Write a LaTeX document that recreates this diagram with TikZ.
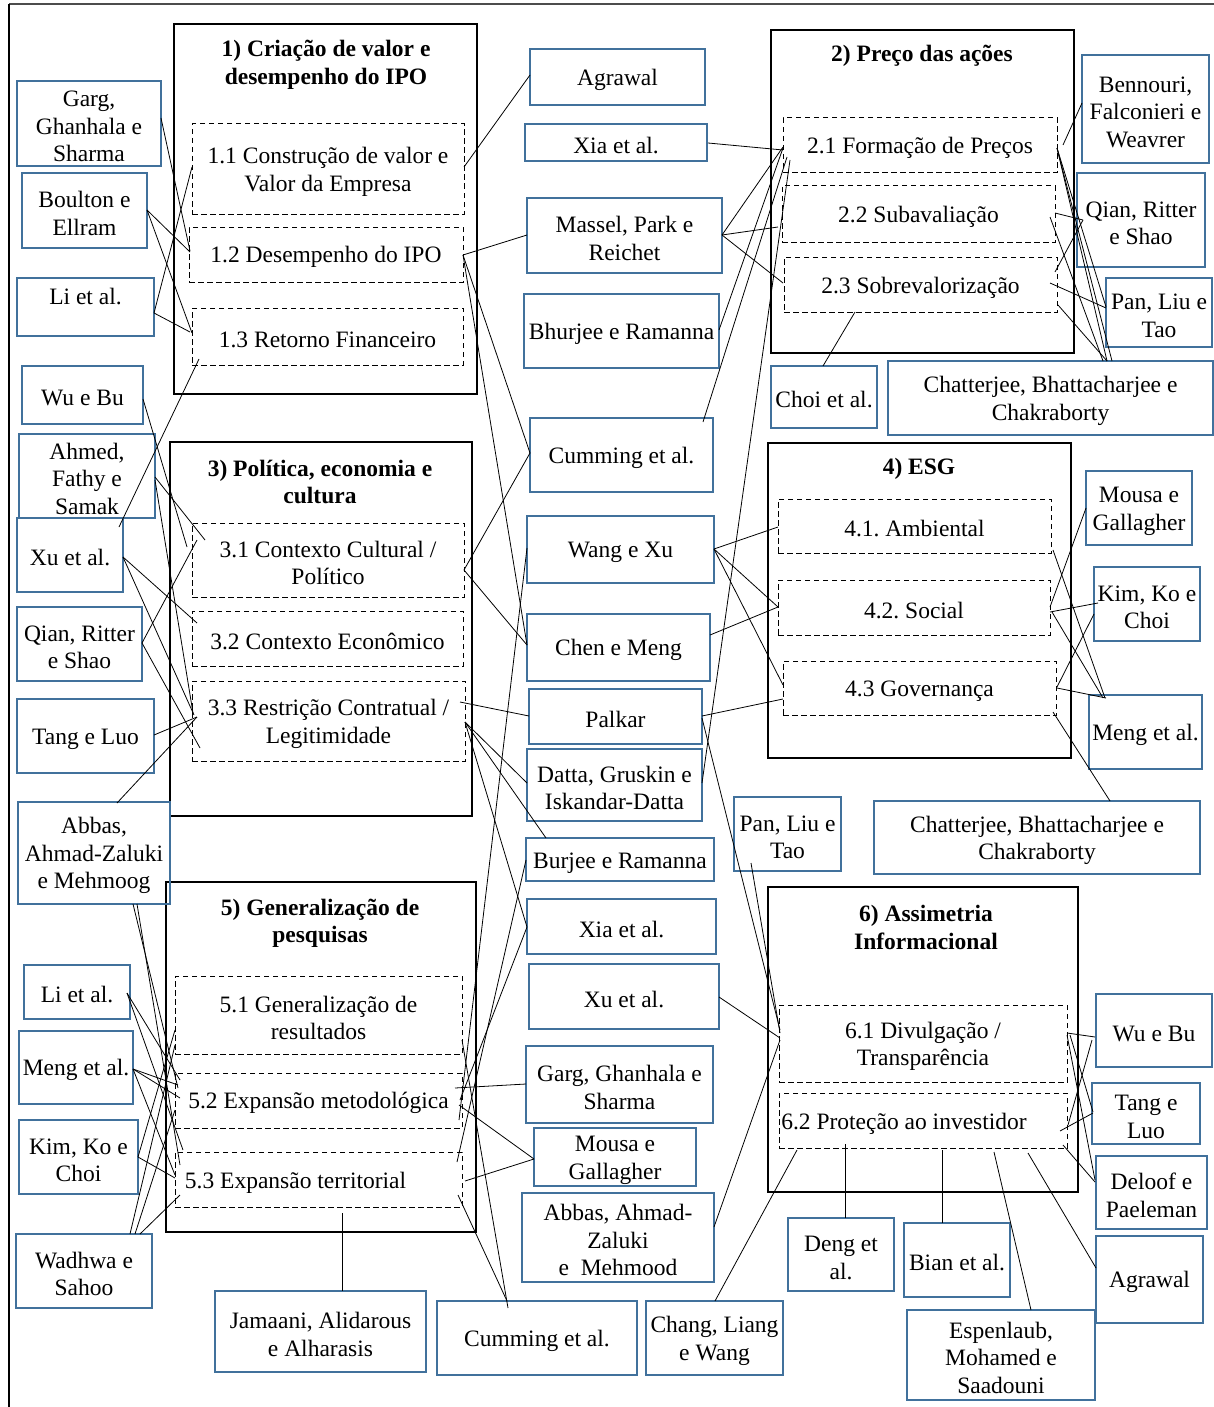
\documentclass[tikz,border=0pt]{standalone}
\usepackage{fontspec}
\setmainfont{Liberation Serif}
\usetikzlibrary{calc}
\definecolor{boxblue}{RGB}{65,113,156}
\newcommand\fs{\fontsize{23.5}{27.5}\selectfont\frenchspacing}
\newcommand\topgap{\rule{0pt}{22pt}}
\tikzset{
  abox/.style={draw=boxblue, line width=1.3pt, inner sep=0pt, outer sep=0pt, align=center, font=\fs},
  grp/.style={draw=black, line width=1.3pt, inner sep=0pt, outer sep=0pt},
  sub/.style={draw=black, dash pattern=on 5.5pt off 3.5pt, line width=1pt, inner sep=0pt, outer sep=0pt, align=center, font=\fs},
  ttl/.style={inner sep=0pt, align=center, font=\fs\bfseries},
  link/.style={draw=black, line width=0.8pt},
}
% box from its corners (x1,y1)-(x2,y2); the corner is stored for the connectors
\newcommand\boxat[7]{%
  \node[#1, minimum width={(#5-#3)*1pt}, minimum height={(#6-#4)*1pt}] (#2) at ({(#3+#5)/2},{(#4+#6)/2}) {\topgap#7};%
  \expandafter\xdef\csname bx@#2\endcsname{#3}%
  \expandafter\xdef\csname by@#2\endcsname{#4}}
% connector between a point on one box and a point on another
\newcommand\lnk[6]{\draw[link] ($(#1.north west)+({#2-\csname bx@#1\endcsname},{#3-\csname by@#1\endcsname})$) -- ($(#4.north west)+({#5-\csname bx@#4\endcsname},{#6-\csname by@#4\endcsname})$);}
\begin{document}
\begin{tikzpicture}[x=1pt,y=-1pt]
\useasboundingbox (0,0) rectangle (1214,1407);
% frame
\draw[line width=1.8pt, draw=black!70] (9,4) -- (1216,4);
\draw[line width=1.3pt] (9,4) -- (9,1410);

% ---------- theme groups ----------
\boxat{grp}{g1}{174}{24}{477}{394}{}
\boxat{grp}{g2}{771}{30}{1074}{353}{}
\boxat{grp}{g3}{170}{442}{472}{816}{}
\boxat{grp}{g4}{768}{443}{1071}{758}{}
\boxat{grp}{g5}{166}{882}{476}{1232}{}
\boxat{grp}{g6}{768}{887}{1078}{1192}{}
\node[ttl] (t1) at (326,62) {\topgap 1) Criação de valor e\\desempenho do IPO};
\node[ttl] (t2) at (922,53) {\topgap 2) Preço das ações};
\node[ttl] (t3) at (320,479) {\topgap 3) Política, economia e\\cultura};
\node[ttl] (t4) at (919,466) {\topgap 4) ESG};
\node[ttl] (t5) at (320,920.5) {\topgap 5) Generalização de\\pesquisas};
\node[ttl] (t6) at (926,924.5) {\topgap 6) Assimetria\\Informacional};

% ---------- sub-themes ----------
\boxat{sub}{s11}{192}{124}{464}{214}{1.1 Construção de valor e\\Valor da Empresa}
\boxat{sub}{s12}{189}{227}{463}{282}{1.2 Desempenho do IPO}
\boxat{sub}{s13}{192}{308}{463}{365}{1.3 Retorno Financeiro}
\boxat{sub}{s21}{783}{118}{1057}{173}{2.1 Formação de Preços}
\boxat{sub}{s22}{782}{186}{1055}{242}{2.2 Subavaliação}
\boxat{sub}{s23}{784}{257}{1057}{312}{2.3 Sobrevalorização}
\boxat{sub}{s31}{192}{523}{464}{597}{3.1 Contexto Cultural /\\Político}
\boxat{sub}{s32}{192}{611}{463}{666}{3.2 Contexto Econômico}
\boxat{sub}{s33}{192}{681}{465}{761}{3.3 Restrição Contratual /\\Legitimidade}
\boxat{sub}{s41}{778}{499}{1051}{553}{4.1. Ambiental}
\boxat{sub}{s42}{778}{580}{1050}{635}{4.2. Social}
\boxat{sub}{s43}{783}{661}{1056}{715}{4.3 Governança}
\boxat{sub}{s51}{175}{976}{462}{1054}{5.1 Generalização de\\resultados}
\boxat{sub}{s52}{175}{1073}{462}{1128}{5.2 Expansão metodológica}
\boxat{sub}{s53}{175}{1152}{462}{1207}{5.3 Expansão territorial\hspace*{46pt}}
\boxat{sub}{s61}{779}{1005}{1067}{1082}{6.1 Divulgação /\\Transparência}
\boxat{sub}{s62}{779}{1093}{1067}{1148}{6.2 Proteção ao investidor\hspace*{38pt}}

% ---------- authors, left ----------
\boxat{abox}{garg1}{17}{81}{161}{166}{Garg,\\Ghanhala e\\Sharma}
\boxat{abox}{boulton}{22}{173}{147}{248}{Boulton e\\Ellram}
\boxat{abox}{li1}{17}{278}{154}{336}{Li et al.\\\mbox{}}
\boxat{abox}{wubu1}{22}{366}{143}{424}{Wu e Bu}
\boxat{abox}{ahmed}{19}{434}{155}{518}{Ahmed,\\Fathy e\\Samak}
\boxat{abox}{xu1}{17}{518}{123}{592}{Xu et al.}
\boxat{abox}{qian1}{17}{607}{142}{681}{Qian, Ritter\\e Shao}
\boxat{abox}{tang1}{17}{699}{154}{773}{Tang e Luo}
\boxat{abox}{abbas1}{18}{802}{170}{904}{Abbas,\\Ahmad-Zaluki\\e Mehmoog}
\boxat{abox}{li2}{24}{965}{130}{1019}{Li et al.}
\boxat{abox}{meng1}{19}{1031}{133}{1104}{Meng et al.}
\boxat{abox}{kim1}{19}{1120}{138}{1194}{Kim, Ko e\\Choi}
\boxat{abox}{wadhwa}{16}{1234}{152}{1308}{Wadhwa e\\Sahoo}
\boxat{abox}{jamaani}{215}{1291}{426}{1372}{Jamaani, Alidarous\\e Alharasis}

% ---------- authors, middle ----------
\boxat{abox}{agrawal1}{530}{49}{705}{105}{Agrawal}
\boxat{abox}{xia1}{525}{124}{707}{161}{Xia et al.}
\boxat{abox}{massel}{527}{198}{722}{273}{Massel, Park e\\Reichet}
\boxat{abox}{bhurjee}{524}{294}{719}{368}{Bhurjee e Ramanna}
\boxat{abox}{cumming1}{530}{418}{713}{492}{Cumming et al.}
\boxat{abox}{wangxu}{527}{516}{714}{583}{Wang e Xu}
\boxat{abox}{chen}{527}{614}{710}{681}{Chen e Meng}
\boxat{abox}{palkar}{529}{689}{702}{744}{Palkar}
\boxat{abox}{datta}{527}{749}{702}{821}{Datta, Gruskin e\\Iskandar-Datta}
\boxat{abox}{burjee}{526}{838}{714}{881}{Burjee e Ramanna}
\boxat{abox}{xia2}{527}{899}{716}{954}{Xia et al.}
\boxat{abox}{xu2}{529}{964}{719}{1029}{Xu et al.}
\boxat{abox}{garg2}{526}{1046}{713}{1123}{Garg, Ghanhala e\\Sharma}
\boxat{abox}{mousa2}{534}{1128}{696}{1186}{Mousa e\\Gallagher}
\boxat{abox}{abbas2}{522}{1193}{714}{1282}{Abbas, Ahmad-\\Zaluki\\e\ \ Mehmood}
\boxat{abox}{cumming2}{437}{1301}{637}{1375}{Cumming et al.}
\boxat{abox}{chang}{646}{1301}{783}{1375}{Chang, Liang\\e Wang}
\boxat{abox}{pan2}{734}{797}{841}{871}{Pan, Liu e\\Tao}

% ---------- authors, right ----------
\boxat{abox}{bennouri}{1082}{55}{1209}{163}{Bennouri,\\Falconieri e\\Weavrer}
\boxat{abox}{qian2}{1077}{173}{1205}{267}{Qian, Ritter\\e Shao}
\boxat{abox}{pan1}{1106}{278}{1212}{347}{Pan, Liu e\\Tao}
\boxat{abox}{choi}{771}{366}{877}{428}{Choi et al.}
\boxat{abox}{chat1}{888}{361}{1213}{435}{Chatterjee, Bhattacharjee e\\Chakraborty}
\boxat{abox}{mousa1}{1086}{471}{1192}{545}{Mousa e\\Gallagher}
\boxat{abox}{kim2}{1094}{567}{1200}{641}{Kim, Ko e\\Choi}
\boxat{abox}{meng2}{1089}{695}{1202}{769}{Meng et al.}
\boxat{abox}{chat2}{874}{801}{1200}{874}{Chatterjee, Bhattacharjee e\\Chakraborty}
\boxat{abox}{wubu2}{1096}{994}{1212}{1067}{Wu e Bu}
\boxat{abox}{tang2}{1092}{1083}{1200}{1144}{Tang e\\Luo}
\boxat{abox}{deloof}{1096}{1156}{1207}{1229}{Deloof e\\Paeleman}
\boxat{abox}{agrawal2}{1096}{1236}{1203}{1323}{Agrawal}
\boxat{abox}{deng}{788}{1218}{894}{1291}{Deng et\\al.}
\boxat{abox}{bian}{904}{1223}{1010}{1297}{Bian et al.}
\boxat{abox}{espen}{907}{1310}{1095}{1400}{Espenlaub,\\Mohamed e\\Saadouni}

% ---------- connectors ----------
% group 1
\lnk{garg1}{161}{118}{s12}{190}{251}
\lnk{boulton}{147}{210}{s12}{190}{252}
\lnk{boulton}{147}{210}{s13}{192}{333}
\lnk{li1}{154}{313}{s11}{192}{167}
\lnk{li1}{154}{313}{s13}{190}{332}
\lnk{xu1}{119}{527}{s13}{199}{359}
\lnk{s11}{464}{167}{agrawal1}{530}{75}
\lnk{s12}{463}{255}{massel}{527}{235}
\lnk{s12}{463}{255}{cumming1}{530}{453}
\lnk{s12}{463}{255}{chen}{527}{645}
% group 2
\lnk{massel}{722}{235}{s21}{783}{147}
\lnk{massel}{722}{235}{s22}{778}{227}
\lnk{massel}{722}{235}{s23}{783}{283}
\lnk{xia1}{708}{143}{s21}{783}{150}
\lnk{bhurjee}{719}{330}{s21}{783}{148}
\lnk{cumming1}{703}{422}{s21}{787}{157}
\lnk{datta}{702}{783}{s21}{790}{160}
\lnk{bennouri}{1082}{103}{s21}{1063}{145}
\lnk{s21}{1057}{148}{pan1}{1106}{307}
\lnk{s21}{1057}{148}{chat1}{1107}{361}
\lnk{s21}{1057}{148}{chat1}{1112}{361}
\lnk{s22}{1055}{213}{qian2}{1083}{220}
\lnk{s22}{1050}{217}{chat1}{1103}{361}
\lnk{s23}{1055}{272}{qian2}{1083}{220}
\lnk{s23}{1050}{283}{pan1}{1106}{308}
\lnk{s23}{1058}{305}{chat1}{1107}{361}
\lnk{s23}{855}{312}{choi}{823}{366}
% group 3
\lnk{wubu1}{143}{399}{s31}{187}{547}
\lnk{ahmed}{155}{477}{s31}{205}{540}
\lnk{ahmed}{155}{480}{s33}{193}{713}
\lnk{xu1}{123}{557}{s32}{197}{623}
\lnk{xu1}{123}{557}{s33}{194}{715}
\lnk{qian1}{142}{643}{s31}{197}{540}
\lnk{qian1}{142}{643}{s33}{200}{748}
\lnk{tang1}{154}{735}{s33}{197}{717}
\lnk{abbas1}{117}{803}{s33}{197}{717}
\lnk{s31}{464}{570}{cumming1}{530}{453}
\lnk{s31}{464}{570}{chen}{527}{645}
\lnk{s33}{460}{702}{palkar}{529}{716}
\lnk{s33}{465}{722}{datta}{527}{783}
\lnk{s33}{465}{722}{burjee}{546}{838}
\lnk{s33}{465}{722}{xia2}{527}{927}
% group 4
\lnk{wangxu}{714}{549}{s41}{778}{527}
\lnk{wangxu}{714}{549}{s42}{778}{607}
\lnk{wangxu}{714}{549}{s43}{783}{685}
\lnk{chen}{710}{635}{s42}{778}{607}
\lnk{palkar}{702}{716}{s43}{783}{699}
\lnk{s41}{1053}{550}{meng2}{1105}{698}
\lnk{mousa1}{1086}{508}{s42}{1050}{607}
\lnk{s42}{1050}{612}{kim2}{1098}{603}
\lnk{s42}{1052}{612}{meng2}{1103}{698}
\lnk{s43}{1057}{687}{kim2}{1094}{614}
\lnk{s43}{1057}{688}{meng2}{1106}{698}
\lnk{s43}{1053}{712}{chat2}{1110}{801}
% group 5
\lnk{wangxu}{527}{548}{s52}{459}{1120}
\lnk{burjee}{526}{860}{s53}{457}{1162}
\lnk{xia2}{527}{927}{s52}{460}{1100}
\lnk{s51}{462}{1040}{cumming2}{508}{1308}
\lnk{s52}{455}{1088}{garg2}{526}{1084}
\lnk{s52}{459}{1105}{mousa2}{534}{1159}
\lnk{s53}{465}{1181}{mousa2}{534}{1159}
\lnk{s53}{458}{1195}{cumming2}{507}{1301}
\lnk{s53}{342}{1213}{jamaani}{342}{1291}
\lnk{abbas1}{133}{904}{s52}{178}{1088}
\lnk{abbas1}{137}{904}{s53}{180}{1165}
\lnk{li2}{127}{993}{s52}{180}{1080}
\lnk{li2}{127}{993}{s53}{183}{1150}
\lnk{meng1}{133}{1069}{s52}{178}{1085}
\lnk{meng1}{133}{1069}{s52}{180}{1098}
\lnk{meng1}{133}{1069}{s53}{175}{1175}
\lnk{kim1}{138}{1157}{s51}{175}{1030}
\lnk{kim1}{138}{1157}{s53}{175}{1178}
\lnk{wadhwa}{130}{1234}{s51}{175}{1045}
\lnk{wadhwa}{135}{1234}{s52}{175}{1110}
\lnk{wadhwa}{140}{1234}{s53}{180}{1195}
% group 6
\lnk{palkar}{702}{718}{s61}{780}{1030}
\lnk{pan2}{751}{863}{s61}{780}{1033}
\lnk{xu2}{719}{997}{s61}{780}{1038}
\lnk{abbas2}{714}{1227}{s61}{780}{1040}
\lnk{chang}{715}{1301}{s62}{797}{1150}
\lnk{s61}{1067}{1033}{wubu2}{1095}{1037}
\lnk{s61}{1067}{1035}{deloof}{1095}{1180}
\lnk{s61}{1070}{1035}{tang2}{1093}{1112}
\lnk{wubu2}{1092}{1040}{s62}{1068}{1125}
\lnk{tang2}{1093}{1113}{s62}{1060}{1131}
\lnk{s62}{1063}{1145}{deloof}{1095}{1182}
\lnk{s62}{845}{1144}{deng}{845}{1218}
\lnk{s62}{942}{1150}{bian}{942}{1223}
\lnk{s62}{994}{1152}{espen}{1031}{1310}
\lnk{s62}{1028}{1153}{agrawal2}{1096}{1268}
\end{tikzpicture}
\end{document}
